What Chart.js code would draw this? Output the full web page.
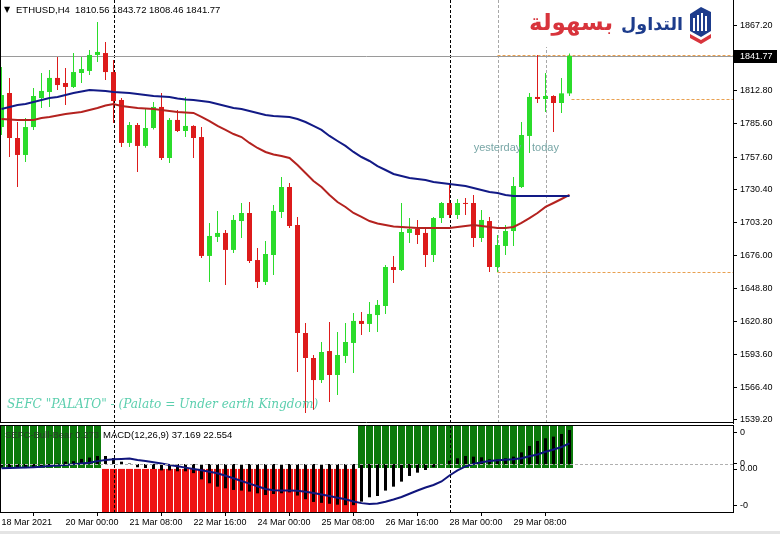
<!DOCTYPE html>
<html>
<head>
<meta charset="utf-8">
<script src="https://cdn.jsdelivr.net/npm/chart.js@4.4.1/dist/chart.umd.min.js"></script>
<style>
  html, body { margin: 0; padding: 0; background: #fff; }
  #wrap { position: relative; width: 780px; height: 534px; overflow: hidden; }
  #main, #macd { position: absolute; left: 0; }
  #main { top: 0; }
  #macd { top: 424px; }
  #strip { position: absolute; left: 0; top: 531px; width: 780px; height: 3px; background: #e4e4e4; }
</style>
</head>
<body>
<div id="wrap">
  <canvas id="main" width="780" height="534"></canvas>
  <canvas id="macd" width="780" height="110"></canvas>
  <div id="strip"></div>
</div>
<script>
// ETHUSD H4, bar index 0 = 18 Mar 16:00 ... 71 = 30 Mar 12:00
const symbol = 'ETHUSD', timeframe = 'H4';

const opens = [1782.6, 1810.9, 1773.5, 1759.4, 1782.6, 1806.7, 1811.7, 1823.4, 1819.2, 1815.9,
  1827.5, 1829.2, 1842.5, 1844.1, 1828.3, 1805.1, 1769.4, 1784.3, 1766.9, 1781.8,
  1799.3, 1756.9, 1788.5, 1779.3, 1783.5, 1774.3, 1675.5, 1691.3, 1694.6, 1680.5,
  1704.5, 1711.2, 1672.1, 1653.9, 1676.3, 1712.0, 1732.8, 1701.2, 1611.5, 1590.7,
  1572.4, 1596.5, 1576.6, 1592.4, 1603.2, 1621.5, 1619.0, 1626.4, 1633.9, 1666.3,
  1663.8, 1694.6, 1697.9, 1694.6, 1676.3, 1707.0, 1719.5, 1709.5, 1719.5, 1719.5,
  1690.4, 1704.5, 1666.3, 1683.8, 1696.2, 1732.8, 1775.2, 1807.6, 1805.9, 1808.4,
  1802.6, 1810.56];
const highs = [1832.5, 1823.4, 1786.8, 1790.1, 1815.0, 1827.5, 1830.0, 1840.8, 1831.7, 1844.1,
  1840.8, 1846.6, 1869.9, 1853.3, 1838.3, 1806.7, 1786.8, 1786.0, 1798.4, 1803.4,
  1810.9, 1790.1, 1796.8, 1807.6, 1784.0, 1782.6, 1702.9, 1712.9, 1697.1, 1709.5,
  1719.5, 1720.3, 1682.1, 1687.9, 1717.8, 1741.1, 1736.1, 1707.9, 1619.8, 1593.2,
  1604.0, 1620.6, 1612.3, 1619.8, 1628.1, 1628.9, 1637.3, 1638.9, 1668.0, 1675.5,
  1719.5, 1707.0, 1705.4, 1698.7, 1707.9, 1720.3, 1734.5, 1722.8, 1723.7, 1726.2,
  1713.7, 1707.9, 1692.9, 1701.2, 1741.1, 1786.8, 1810.9, 1842.5, 1827.5, 1809.0,
  1823.4, 1843.72];
const lows = [1776.0, 1757.7, 1732.8, 1753.6, 1780.2, 1798.4, 1799.3, 1813.4, 1800.9, 1815.0,
  1819.2, 1825.9, 1836.6, 1821.7, 1786.0, 1766.0, 1766.0, 1745.3, 1765.5, 1780.5,
  1755.2, 1752.7, 1778.5, 1774.3, 1756.9, 1673.8, 1653.9, 1687.1, 1651.4, 1678.0,
  1690.4, 1669.7, 1648.9, 1651.4, 1659.7, 1707.0, 1698.7, 1579.1, 1545.0, 1547.5,
  1570.0, 1554.2, 1560.0, 1586.6, 1578.3, 1609.8, 1612.3, 1612.3, 1627.3, 1653.0,
  1663.0, 1686.3, 1685.4, 1666.3, 1670.5, 1702.9, 1707.0, 1706.2, 1709.5, 1682.9,
  1687.1, 1662.2, 1662.2, 1676.3, 1683.8, 1732.0, 1761.0, 1802.6, 1795.1, 1778.5,
  1794.3, 1808.46];
const closes = [1809.2, 1773.5, 1759.4, 1782.6, 1808.4, 1812.6, 1823.4, 1817.5, 1815.9, 1828.3,
  1830.8, 1842.5, 1845.0, 1828.3, 1804.2, 1769.4, 1784.3, 1766.9, 1781.8, 1799.3,
  1756.9, 1788.5, 1779.3, 1783.5, 1773.5, 1675.5, 1692.1, 1694.6, 1680.5, 1705.4,
  1711.2, 1671.3, 1653.9, 1677.1, 1712.9, 1732.8, 1700.4, 1611.5, 1590.7, 1572.4,
  1595.7, 1576.6, 1593.2, 1604.0, 1621.5, 1619.0, 1627.3, 1634.8, 1666.3, 1663.8,
  1695.4, 1697.9, 1692.9, 1676.3, 1707.0, 1719.5, 1709.5, 1719.5, 1718.7, 1690.4,
  1705.4, 1666.3, 1684.6, 1696.2, 1733.6, 1776.0, 1807.6, 1805.9, 1808.4, 1802.6,
  1810.6, 1841.77];

// moving averages (blue = slow, red = fast)
const maSlow = [1797.6, 1799.3, 1800.9, 1801.8, 1803.4, 1805.1, 1806.7, 1807.6, 1809.2, 1810.9,
  1812.1, 1813.4, 1813.0, 1812.6, 1811.7, 1811.3, 1810.9, 1810.1, 1809.2, 1808.4,
  1808.0, 1807.6, 1806.3, 1805.5, 1805.1, 1804.2, 1803.4, 1801.8, 1800.1, 1798.4,
  1797.6, 1795.9, 1794.3, 1792.6, 1791.8, 1791.4, 1790.9, 1789.3, 1786.8, 1783.5,
  1780.2, 1775.2, 1771.0, 1766.9, 1761.9, 1757.7, 1754.4, 1750.2, 1746.9, 1743.6,
  1741.9, 1740.3, 1739.4, 1738.6, 1737.0, 1736.1, 1735.3, 1734.5, 1733.6, 1732.0,
  1730.3, 1728.6, 1727.8, 1726.2, 1725.3, 1725.3, 1725.3, 1725.3, 1725.3, 1725.3,
  1725.3, 1725.3];
const maFast = [1789.3, 1788.9, 1788.5, 1788.5, 1788.5, 1790.1, 1791.0, 1792.2, 1793.4, 1794.3,
  1795.1, 1796.8, 1798.4, 1800.5, 1801.8, 1800.1, 1799.3, 1798.4, 1798.0, 1797.6,
  1796.8, 1795.9, 1795.1, 1794.7, 1794.3, 1791.0, 1787.6, 1783.5, 1780.2, 1776.8,
  1774.3, 1769.4, 1765.2, 1761.9, 1759.8, 1758.6, 1756.9, 1751.1, 1744.4, 1737.8,
  1732.8, 1726.2, 1720.3, 1716.2, 1711.2, 1707.9, 1704.5, 1702.5, 1701.2, 1700.0,
  1699.6, 1699.1, 1698.7, 1698.7, 1698.7, 1698.7, 1698.7, 1699.6, 1700.4, 1701.2,
  1700.4, 1699.6, 1698.7, 1698.7, 1699.6, 1702.9, 1707.0, 1711.2, 1716.2, 1719.5,
  1722.8, 1726.2];

// MACD(12,26,9): main histogram and signal line
const macdMain = [-3.0, -3.5, -4.0, -4.5, -4.0, -3.0, -1.5, 0.5, 2.5, 3.0,
  5.5, 7.0, 8.7, 8.7, 6.5, 2.5, 0.5, -3.6, -4.4, -5.5,
  -7.0, -7.0, -8.0, -8.0, -10.0, -16.8, -21.1, -24.8, -26.6, -28.4,
  -29.1, -30.2, -32.1, -33.9, -32.8, -32.0, -31.0, -34.5, -38.5, -41.5,
  -42.5, -43.5, -44.5, -45.0, -45.0, -41.2, -36.4, -35.0, -29.1, -24.8,
  -19.3, -13.1, -9.5, -6.6, -3.6, -0.5, 3.6, 6.2, 8.7, 8.0,
  7.3, 5.1, 5.1, 6.2, 8.0, 12.7, 19.7, 25.1, 28.1, 29.9,
  32.8, 37.169];
const macdSignal = [-4.7, -4.4, -4.2, -3.9, -3.6, -3.1, -2.2, -1.6, -1.1, -0.3,
  0.5, 1.4, 3.1, 4.4, 5.1, 5.5, 6.0, 4.4, 3.3, 2.0,
  0.5, -1.1, -2.5, -4.0, -5.5, -6.8, -8.5, -10.2, -12.9, -15.6,
  -18.6, -21.5, -24.4, -27.3, -28.6, -29.0, -29.0, -29.3, -30.3, -31.7,
  -33.3, -35.0, -36.9, -38.6, -41.0, -42.8, -43.7, -43.2, -41.2, -38.8,
  -36.1, -32.5, -29.0, -25.7, -23.0, -19.1, -12.6, -7.1, -2.7, 0.0,
  1.9, 3.3, 4.0, 4.6, 5.1, 6.2, 8.4, 10.4, 13.4, 15.8,
  18.6, 22.554];

// SEFC-Bull-Bear state per bar (1 bull, -1 bear)
const bullBear = [1, 1, 1, 1, 1, 1, 1, 1, 1, 1, 1, 1, 1,
  -1, -1, -1, -1, -1, -1, -1, -1, -1, -1, -1, -1, -1, -1, -1, -1,
  -1, -1, -1, -1, -1, -1, -1, -1, -1, -1, -1, -1, -1, -1, -1, -1,
  1, 1, 1, 1, 1, 1, 1, 1, 1, 1, 1, 1, 1, 1, 1, 1, 1, 1, 1, 1, 1, 1, 1, 1, 1, 1, 1];
const bullBearValue = 0.273;

// tick labels
const priceTicks = [1867.20, 1812.80, 1785.60, 1757.60, 1730.40, 1703.20, 1676.00, 1648.80, 1620.80, 1593.60, 1566.40, 1539.20];
const timeTickBars = [0, 8, 16, 24, 32, 40, 48, 56, 64];
const timeTickLabels = ['18 Mar 2021', '20 Mar 00:00', '21 Mar 08:00', '22 Mar 16:00', '24 Mar 00:00',
  '25 Mar 08:00', '26 Mar 16:00', '28 Mar 00:00', '29 Mar 08:00'];
const macdTickValues = [33.9, 1.0, -5.5, -45.9];
const macdTickLabels = ['0', '0', '0.00', '-0'];

// separators and levels
const weekSeparators = [14, 56];
const daySeparators = [62, 68];
const dayLabels = ['yesterday', 'today'];
const yesterdayHigh = 1842.5, yesterdayLow = 1662.2, todayOpen = 1805.9;
const note = 'SEFC "PALATO" - (Palato = Under earth Kingdom)';

const GREEN = '#2bdc2b', RED = '#dd1b1b';
const xMin = -0.1875, xMax = xMin + 733 / 8;
const FONT = 'Liberation Sans';
Chart.defaults.font.family = FONT;

const last = closes.length - 1;
const candleColor = closes.map((c, i) => c >= opens[i] ? GREEN : RED);

function dashedV(ctx, x, top, bottom, color) {
  ctx.save();
  ctx.strokeStyle = color; ctx.lineWidth = 1; ctx.setLineDash([3, 2]);
  ctx.beginPath(); ctx.moveTo(Math.round(x) + 0.5, top); ctx.lineTo(Math.round(x) + 0.5, bottom); ctx.stroke();
  ctx.restore();
}
function hLine(ctx, y, x1, x2, color, dash) {
  ctx.save();
  ctx.strokeStyle = color; ctx.lineWidth = 1; ctx.setLineDash(dash || []);
  ctx.beginPath(); ctx.moveTo(x1, Math.round(y) + 0.5); ctx.lineTo(x2, Math.round(y) + 0.5); ctx.stroke();
  ctx.restore();
}
function fitText(ctx, text, style, family, width, base) {
  ctx.font = style + ' ' + base + 'px ' + family;
  const w = ctx.measureText(text).width;
  const size = base * width / w;
  ctx.font = style + ' ' + size.toFixed(2) + 'px ' + family;
}
// keep the plot area exactly where the layout puts it
function noPad(s) { s.paddingTop = 0; s.paddingBottom = 0; s.paddingLeft = 0; s.paddingRight = 0; }

const mainOverlay = {
  id: 'mainOverlay',
  beforeDatasetsDraw(chart) {
    const { ctx, chartArea: a, scales: { x, y } } = chart;
    weekSeparators.forEach(k => dashedV(ctx, x.getPixelForValue(k), a.top, a.bottom, '#000'));
    daySeparators.forEach(k => dashedV(ctx, x.getPixelForValue(k), a.top, a.bottom, '#a8a8a8'));
    hLine(ctx, y.getPixelForValue(closes[last]), a.left, a.right, '#9a9a9a');
    const xd = x.getPixelForValue(daySeparators[0]);
    hLine(ctx, y.getPixelForValue(yesterdayHigh), xd, a.right, '#e8a050', [3, 2]);
    hLine(ctx, y.getPixelForValue(yesterdayLow), xd, a.right, '#e8a050', [3, 2]);
    hLine(ctx, y.getPixelForValue(todayOpen), x.getPixelForValue(last) + 2, a.right, '#e8a050', [3, 2]);
  },
  afterDatasetsDraw(chart) {
    const { ctx, chartArea: a, scales: { x, y } } = chart;
    ctx.save();
    // day labels
    ctx.fillStyle = '#78a6a6'; ctx.font = '11px ' + FONT;
    ctx.textAlign = 'center'; ctx.textBaseline = 'middle';
    daySeparators.forEach((k, i) => ctx.fillText(dayLabels[i], x.getPixelForValue(k), y.getPixelForValue(1765)));
    // note
    fitText(ctx, note, 'italic', '"DejaVu Serif"', 311, 12);
    ctx.fillStyle = '#5ccfae'; ctx.textAlign = 'left';
    ctx.fillText(note, 7, 405);
    // header
    ctx.fillStyle = '#000';
    ctx.font = '8px "DejaVu Sans"';
    ctx.fillText('\u25BC', 4, 10);
    ctx.font = '9.5px ' + FONT;
    ctx.fillText(symbol + ',' + timeframe + '  ' + [opens[last], highs[last], lows[last], closes[last]].map(v => v.toFixed(2)).join(' '), 16, 10);
    // frame
    ctx.strokeStyle = '#000'; ctx.lineWidth = 1;
    ctx.beginPath(); ctx.moveTo(0.5, 0); ctx.lineTo(0.5, a.bottom); ctx.moveTo(0, a.bottom - 0.5); ctx.lineTo(a.right, a.bottom - 0.5); ctx.stroke();
    // current price box
    const py = Math.round(y.getPixelForValue(closes[last]));
    ctx.fillStyle = '#000'; ctx.fillRect(a.right + 1, py - 6, 43, 13);
    ctx.fillStyle = '#fff'; ctx.font = '9px ' + FONT; ctx.textAlign = 'left';
    ctx.fillText(closes[last].toFixed(2), a.right + 7, py + 0.5);
    // logo
    ctx.fillStyle = '#fff'; ctx.fillRect(522, 0, a.right - 523, 47);
    ctx.direction = 'rtl'; ctx.textAlign = 'right'; ctx.textBaseline = 'alphabetic';
    fitText(ctx, 'التداول', 'bold', '"DejaVu Sans"', 62, 22);
    ctx.fillStyle = '#1d3c8c'; ctx.fillText('التداول', 683, 30);
    fitText(ctx, 'بسهولة', 'bold', '"DejaVu Sans"', 84, 22);
    ctx.fillStyle = '#d8343c'; ctx.fillText('بسهولة', 613, 30);
    ctx.direction = 'ltr';
    ctx.fillStyle = '#1d3c8c';
    ctx.beginPath(); ctx.moveTo(690, 14); ctx.lineTo(701, 7); ctx.lineTo(711, 12); ctx.lineTo(711, 31);
    ctx.lineTo(701, 37); ctx.lineTo(690, 31); ctx.closePath(); ctx.fill();
    ctx.fillStyle = '#fff';
    [[693, 18], [697, 15], [701, 13], [705, 16]].forEach(b => ctx.fillRect(b[0], b[1], 2, 31 - b[1]));
    ctx.fillStyle = '#d8343c';
    ctx.beginPath(); ctx.moveTo(690, 34); ctx.lineTo(701, 40); ctx.lineTo(711, 34); ctx.lineTo(711, 38);
    ctx.lineTo(701, 44); ctx.lineTo(690, 38); ctx.closePath(); ctx.fill();
    ctx.restore();
  }
};

new Chart(document.getElementById('main'), {
  type: 'bar',
  data: {
    datasets: [
      { type: 'line', label: 'MA slow', data: maSlow.map((v, i) => ({ x: i, y: v })),
        borderColor: '#121a86', borderWidth: 2, pointRadius: 0, order: 1 },
      { type: 'line', label: 'MA fast', data: maFast.map((v, i) => ({ x: i, y: v })),
        borderColor: '#b4221f', borderWidth: 2, pointRadius: 0, order: 2 },
      { label: 'body', data: opens.map((o, i) => ({ x: i, y: [o, closes[i]] })),
        backgroundColor: candleColor, barThickness: 5, minBarLength: 1, grouped: false, inflateAmount: 0, order: 3 },
      { label: 'wick', data: lows.map((l, i) => ({ x: i, y: [l, highs[i]] })),
        backgroundColor: candleColor, barThickness: 1, grouped: false, inflateAmount: 0, order: 4 }
    ]
  },
  options: {
    responsive: false, animation: false, devicePixelRatio: 1,
    layout: { padding: { left: 0, right: 0, top: 0, bottom: 111 }, autoPadding: false },
    plugins: { legend: { display: false }, tooltip: { enabled: false } },
    scales: {
      x: { type: 'linear', min: xMin, max: xMax, offset: false, display: false, afterFit: noPad },
      y: {
        position: 'right', min: 1536.7, max: 1888.16,
        afterFit(s) { s.width = 47; noPad(s); },
        afterBuildTicks(s) { s.ticks = priceTicks.map(v => ({ value: v })); },
        ticks: { callback: v => v.toFixed(2), font: { size: 9 }, color: '#000', padding: 3, autoSkip: false },
        grid: { drawOnChartArea: false, tickLength: 4, color: '#000' },
        border: { color: '#000', width: 1 }
      }
    }
  },
  plugins: [mainOverlay]
});

const macdOverlay = {
  id: 'macdOverlay',
  afterDatasetsDraw(chart) {
    const { ctx, chartArea: a, scales: { x, y } } = chart;
    weekSeparators.forEach(k => dashedV(ctx, x.getPixelForValue(k), a.top, a.bottom, '#000'));
    hLine(ctx, y.getPixelForValue(0), a.left, a.right, '#b0b0b0', [3, 2]);
    ctx.save();
    ctx.strokeStyle = '#000'; ctx.lineWidth = 1;
    ctx.beginPath(); ctx.moveTo(0.5, a.top); ctx.lineTo(0.5, a.bottom); ctx.moveTo(0, a.top + 0.5); ctx.lineTo(a.right, a.top + 0.5); ctx.stroke();
    ctx.font = '9.5px ' + FONT; ctx.textBaseline = 'middle'; ctx.textAlign = 'left';
    ctx.fillStyle = '#2a3a2a';
    ctx.fillText('SEFC-Bull-Bear ' + bullBearValue.toFixed(3), 5, 11);
    ctx.fillStyle = '#000';
    ctx.fillText('MACD(12,26,9) ' + macdMain[last].toFixed(3) + ' ' + macdSignal[last].toFixed(3), 103, 11);
    ctx.restore();
  }
};

const mTop = 42.6, mBottom = -52.5;
new Chart(document.getElementById('macd'), {
  type: 'bar',
  data: {
    datasets: [
      { type: 'line', label: 'Signal', data: macdSignal.map((v, i) => ({ x: i, y: v })),
        borderColor: '#10157c', borderWidth: 2, pointRadius: 0, order: 1 },
      { label: 'MACD', data: macdMain.map((v, i) => ({ x: i, y: v })),
        backgroundColor: '#000', barThickness: 3, grouped: false, inflateAmount: 0, order: 2 },
      { label: 'SEFC-Bull-Bear', data: bullBear.map((b, i) => ({ x: i, y: b > 0 ? [-4.4, mTop] : [mBottom, -5.4] })),
        backgroundColor: bullBear.map(b => b > 0 ? '#0b7a0b' : '#ee1313'),
        barThickness: 7, grouped: false, inflateAmount: 0, order: 3 }
    ]
  },
  options: {
    responsive: false, animation: false, devicePixelRatio: 1,
    layout: { padding: { left: 0, right: 0, top: 1, bottom: 0 }, autoPadding: false },
    plugins: { legend: { display: false }, tooltip: { enabled: false } },
    scales: {
      x: {
        type: 'linear', min: xMin, max: xMax, offset: false, position: 'bottom',
        afterFit(s) { s.height = 22; noPad(s); },
        afterBuildTicks(s) { s.ticks = timeTickBars.map(v => ({ value: v })); },
        ticks: { callback: (v, i) => timeTickLabels[i], align: 'start', font: { size: 9 }, color: '#000',
          maxRotation: 0, autoSkip: false, padding: 1 },
        grid: { drawOnChartArea: false, tickLength: 4, color: '#000' },
        border: { color: '#000', width: 1 }
      },
      y: {
        position: 'right', min: mBottom, max: mTop,
        afterFit(s) { s.width = 47; noPad(s); },
        afterBuildTicks(s) { s.ticks = macdTickValues.map(v => ({ value: v })); },
        ticks: { callback: (v, i) => macdTickLabels[i], font: { size: 9 }, color: '#000', padding: 3, autoSkip: false },
        grid: { drawOnChartArea: false, tickLength: 4, color: '#000' },
        border: { color: '#000', width: 1 }
      }
    }
  },
  plugins: [macdOverlay]
});
</script>
</body>
</html>
